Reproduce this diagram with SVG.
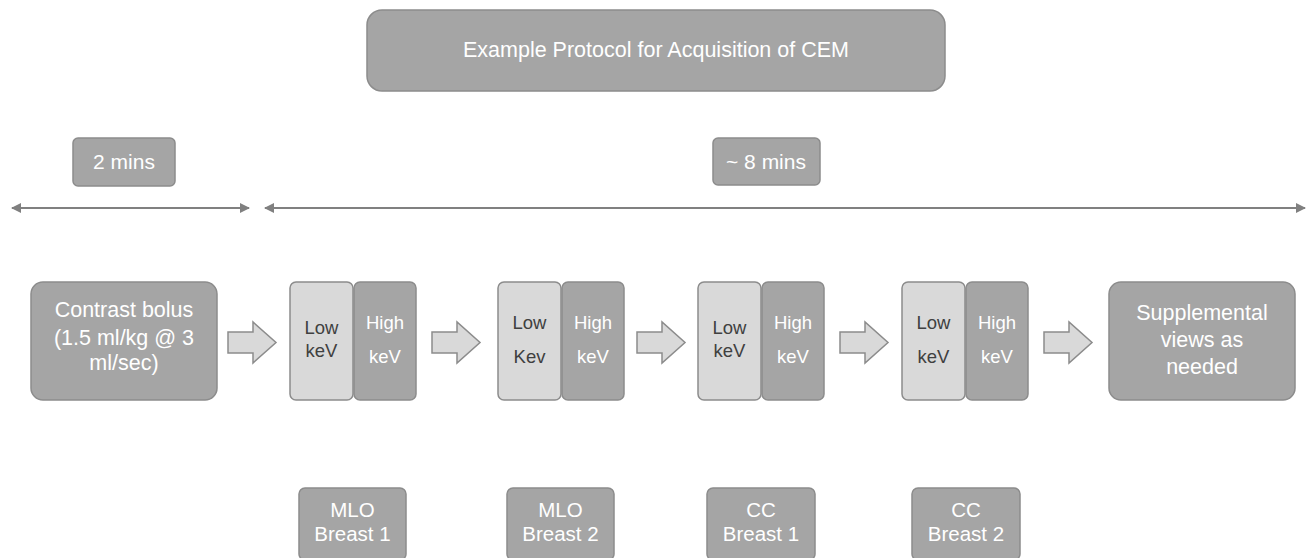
<svg xmlns="http://www.w3.org/2000/svg" width="1309" height="558" viewBox="0 0 1309 558">
<defs>
<style>
.dk{fill:#a5a5a5;stroke:#8c8c8c;stroke-width:1.5}
.lt{fill:#d9d9d9;stroke:#8c8c8c;stroke-width:1.5}
.ba{fill:#d9d9d9;stroke:#8c8c8c;stroke-width:1.5}
.w{fill:#ffffff;font-family:"Liberation Sans",Arial,sans-serif;text-anchor:middle}
.d{fill:#404040;font-family:"Liberation Sans",Arial,sans-serif;text-anchor:middle}
.tl{stroke:#808080;stroke-width:2;fill:none}
</style>
<marker id="ah" viewBox="0 0 10 10" refX="9" refY="5" markerWidth="5" markerHeight="5" orient="auto-start-reverse" markerUnits="strokeWidth">
<path d="M0,0 L10,5 L0,10 z" fill="#808080"/>
</marker>
<path id="blk" d="M0,-10.5 H25 V-20.5 L48,0 L25,20.5 V10.5 H0 Z"/>
</defs>
<rect width="1309" height="558" fill="#ffffff"/>

<g id="title">
<rect class="dk" x="367" y="10" width="578" height="81" rx="15"/>
<text class="w" x="656" y="57" font-size="21.5">Example Protocol for Acquisition of CEM</text>
</g>

<g id="t2">
<rect class="dk" x="73" y="138" width="102" height="48" rx="5"/>
<text class="w" x="124" y="169" font-size="21">2 mins</text>
</g>
<g id="t8">
<rect class="dk" x="713" y="138" width="107" height="47" rx="5"/>
<text class="w" x="766" y="169" font-size="21">~ 8 mins</text>
</g>

<g id="connectors">
<line class="tl" x1="12" y1="208" x2="249" y2="208" marker-start="url(#ah)" marker-end="url(#ah)"/>
<line class="tl" x1="265" y1="208" x2="1305" y2="208" marker-start="url(#ah)" marker-end="url(#ah)"/>
<use href="#blk" class="ba" x="228" y="342.5"/>
<use href="#blk" class="ba" x="432" y="342.5"/>
<use href="#blk" class="ba" x="637" y="342.5"/>
<use href="#blk" class="ba" x="840" y="342.5"/>
<use href="#blk" class="ba" x="1044" y="342.5"/>
</g>

<g id="bolus">
<rect class="dk" x="31" y="282" width="186" height="118" rx="12"/>
<text class="w" x="124" y="317" font-size="21.5">Contrast bolus</text>
<text class="w" x="124" y="345" font-size="21.5">(1.5 ml/kg @ 3</text>
<text class="w" x="124" y="370" font-size="21.5">ml/sec)</text>
</g>

<g id="pair1">
<rect class="lt" x="290" y="282" width="63" height="118" rx="6"/>
<rect class="dk" x="354" y="282" width="62" height="118" rx="6"/>
<text class="d" x="321.5" y="334" font-size="18.5">Low</text>
<text class="d" x="321.5" y="357" font-size="18.5">keV</text>
<text class="w" x="385" y="329" font-size="18.5">High</text>
<text class="w" x="385" y="363" font-size="18.5">keV</text>
</g>

<g id="pair2">
<rect class="lt" x="498" y="282" width="63" height="118" rx="6"/>
<rect class="dk" x="562" y="282" width="62" height="118" rx="6"/>
<text class="d" x="529.5" y="329" font-size="18.5">Low</text>
<text class="d" x="529.5" y="363" font-size="18.5">Kev</text>
<text class="w" x="593" y="329" font-size="18.5">High</text>
<text class="w" x="593" y="363" font-size="18.5">keV</text>
</g>

<g id="pair3">
<rect class="lt" x="698" y="282" width="63" height="118" rx="6"/>
<rect class="dk" x="762" y="282" width="62" height="118" rx="6"/>
<text class="d" x="729.5" y="334" font-size="18.5">Low</text>
<text class="d" x="729.5" y="357" font-size="18.5">keV</text>
<text class="w" x="793" y="329" font-size="18.5">High</text>
<text class="w" x="793" y="363" font-size="18.5">keV</text>
</g>

<g id="pair4">
<rect class="lt" x="902" y="282" width="63" height="118" rx="6"/>
<rect class="dk" x="966" y="282" width="62" height="118" rx="6"/>
<text class="d" x="933.5" y="329" font-size="18.5">Low</text>
<text class="d" x="933.5" y="363" font-size="18.5">keV</text>
<text class="w" x="997" y="329" font-size="18.5">High</text>
<text class="w" x="997" y="363" font-size="18.5">keV</text>
</g>

<g id="supp">
<rect class="dk" x="1109" y="282" width="186" height="118" rx="12"/>
<text class="w" x="1202" y="320" font-size="21.5">Supplemental</text>
<text class="w" x="1202" y="347" font-size="21.5">views as</text>
<text class="w" x="1202" y="374" font-size="21.5">needed</text>
</g>

<g id="lbl1">
<rect class="dk" x="299" y="488" width="107" height="72" rx="6"/>
<text class="w" x="352.5" y="517" font-size="20.5">MLO</text>
<text class="w" x="352.5" y="541" font-size="20.5">Breast 1</text>
</g>
<g id="lbl2">
<rect class="dk" x="507" y="488" width="107" height="72" rx="6"/>
<text class="w" x="560.5" y="517" font-size="20.5">MLO</text>
<text class="w" x="560.5" y="541" font-size="20.5">Breast 2</text>
</g>
<g id="lbl3">
<rect class="dk" x="707" y="488" width="108" height="72" rx="6"/>
<text class="w" x="761" y="517" font-size="20.5">CC</text>
<text class="w" x="761" y="541" font-size="20.5">Breast 1</text>
</g>
<g id="lbl4">
<rect class="dk" x="912" y="488" width="108" height="72" rx="6"/>
<text class="w" x="966" y="517" font-size="20.5">CC</text>
<text class="w" x="966" y="541" font-size="20.5">Breast 2</text>
</g>
</svg>
